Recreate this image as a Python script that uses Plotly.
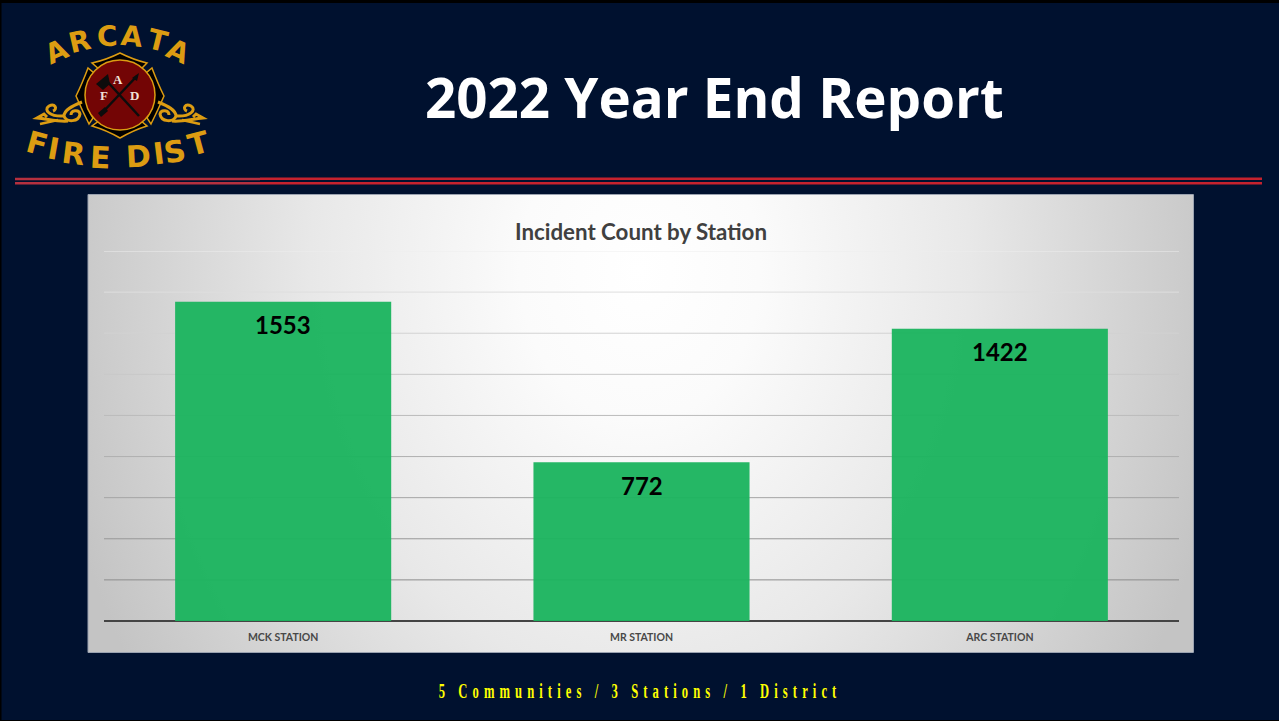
import base64
import plotly.graph_objects as go

# ---- data ----
stations = ["MCK STATION", "MR STATION", "ARC STATION"]
incidents = [1553, 772, 1422]
grid_values = [200, 400, 600, 800, 1000, 1200, 1400, 1600, 1800]
grid_colors = ["#8c8c8c", "#989898", "#a4a4a4", "#b0b0b0", "#bcbcbc", "#c8c8c8", "#d2d2d2", "#dedede", "#eeeeee"]
main_title = "2022 Year End Report"
chart_title = "Incident Count by Station"
footer = "5 Communities / 3 Stations / 1 District"
top_letters = list("ARCATA")
top_xy = [(57, 52), (80, 42), (107, 37), (132, 37), (157, 41), (178, 52)]
top_ang = [-24, -13, -3, 6, 14, 24]
low_letters = list("FIREDIST")
low_xy = [(37, 143), (53, 148), (73, 153), (100, 157), (138, 156), (158, 153), (175, 151), (198, 143)]
low_ang = [15, 10, 7, 3, -3, -7, -10, -15]

W, H = 1279, 721
NAVY = "#00112f"
GOLD = "#dc9c12"
CX = 120


def X(x):
    return x / W


def Y(y):
    return 1 - y / H


def P(cmds):
    out = []
    for c in cmds:
        if isinstance(c, str):
            out.append(c)
        else:
            out.append(f"{X(c[0]):.5f},{Y(c[1]):.5f}")
    return " ".join(out)


def rect(x0, y0, x1, y1, color):
    return dict(type="rect", xref="paper", yref="paper", x0=X(x0), x1=X(x1), y0=Y(y0), y1=Y(y1),
                fillcolor=color, line_width=0, layer="below")


def path(cmds, fill=None, line=None, lw=0):
    d = dict(type="path", xref="paper", yref="paper", path=P(cmds), layer="below")
    d["fillcolor"] = fill if fill else "rgba(0,0,0,0)"
    d["line"] = dict(color=line or "rgba(0,0,0,0)", width=lw)
    return d


def circle(cx, cy, r, fill, line=None, lw=0):
    return dict(type="circle", xref="paper", yref="paper", x0=X(cx - r), x1=X(cx + r), y0=Y(cy + r), y1=Y(cy - r),
                fillcolor=fill, line=dict(color=line or "rgba(0,0,0,0)", width=lw), layer="below")


svg = """<svg xmlns='http://www.w3.org/2000/svg' width='1105' height='457' preserveAspectRatio='none'>
<defs><radialGradient id='g' gradientUnits='userSpaceOnUse' cx='0' cy='0' r='1' gradientTransform='translate(552 75) scale(600 750)'>
<stop offset='0' stop-color='#ffffff'/><stop offset='0.2' stop-color='#fbfbfb'/><stop offset='0.55' stop-color='#e8e8e8'/><stop offset='1' stop-color='#c4c4c4'/>
</radialGradient></defs><rect width='1105' height='457' fill='url(#g)'/></svg>"""
panel_src = "data:image/svg+xml;base64," + base64.b64encode(svg.encode()).decode()

shapes = []
shapes += [rect(0, 0, W, 3, "#000000"), rect(0, 0, 1.5, H, "#000000"), rect(0, 720, W, H, "#000000")]
shapes += [rect(15, 177.8, 260, 180.2, "#b5303f"), rect(15, 182, 260, 184.6, "#b5303f"),
           rect(260, 177.6, 1262, 180, "#c5222e"), rect(260, 182, 1262, 184.4, "#c5222e")]
shapes.append(dict(type="rect", xref="paper", yref="paper", x0=X(88), x1=X(1193.5), y0=Y(652.5), y1=Y(194.5),
                   line=dict(color="#9aa2b0", width=1), fillcolor="rgba(0,0,0,0)", layer="below"))
for v, c in zip(grid_values, grid_colors):
    shapes.append(dict(type="line", xref="x domain", yref="y", x0=0, x1=1, y0=v, y1=v,
                       line=dict(color=c, width=1), layer="below"))

# logo emblem
for sgn in (1, -1):
    m = lambda x: CX + sgn * (x - CX)
    shapes.append(path(["M", (m(152), 68), "Q", (m(158), 84), (m(164), 96), "Q", (m(158), 110), (m(151), 124),
                        "L", (m(147), 118), "Q", (m(160), 96), (m(146), 73), "Z"],
                       fill="#000000", line=GOLD, lw=1.5))
    shapes.append(path(["M", (m(158), 102), "C", (m(168), 106), (m(176), 110), (m(176), 116),
                        "C", (m(174), 123), (m(161), 122), (m(160), 114), "C", (m(161), 109), (m(169), 110), (m(169), 115)],
                       line=GOLD, lw=3))
    shapes.append(path(["M", (m(176), 116), "C", (m(190), 117), (m(197), 110), (m(191), 106),
                        "C", (m(185), 103), (m(182), 109), (m(187), 111)], line=GOLD, lw=3))
    shapes.append(path(["M", (m(172), 121), "C", (m(182), 122), (m(192), 119), (m(203), 118),
                        "L", (m(196), 114), "L", (m(193), 117)], line=GOLD, lw=3))
    shapes.append(path(["M", (m(182), 120), "L", (m(200), 124)], line=GOLD, lw=2.5))
shapes.append(path(["M", (92, 63), "Q", (106, 60), (120, 53), "Q", (134, 60), (147, 63), "L", (141, 69),
                    "Q", (120, 56), (99, 69), "Z"], fill="#000000", line=GOLD, lw=1.5))
shapes.append(path(["M", (92, 126), "Q", (106, 130), (120, 138), "Q", (134, 130), (147, 126), "L", (141, 121),
                    "Q", (120, 134), (99, 121), "Z"], fill="#000000", line=GOLD, lw=1.5))
shapes.append(circle(CX, 95, 35, "#730505", GOLD, 1.5))
shapes.append(path(["M", (104, 78), "L", (139, 116)], line="#0c0c0c", lw=2.5))
shapes.append(path(["M", (137, 76), "L", (101, 114)], line="#0c0c0c", lw=2.5))
shapes.append(path(["M", (96, 84), "L", (108, 74), "L", (110, 84), "L", (103, 90), "Z"], fill="#0c0c0c"))
shapes.append(path(["M", (98, 113), "L", (105, 107), "L", (108, 111), "L", (101, 117), "Z"], fill="#0c0c0c"))
shapes.append(path(["M", (132, 78), "L", (139, 73), "L", (137, 81), "Z"], fill="#0c0c0c"))

anns = []


def note(text, x, y, size, color, family, angle=0, **kw):
    anns.append(dict(text=text, xref="paper", yref="paper", x=X(x), y=Y(y), xanchor="center", yanchor="middle",
                     showarrow=False, textangle=angle, font=dict(size=size, color=color, family=family), **kw))


for s, (x, y), a in zip(top_letters, top_xy, top_ang):
    note(f"<b>{s}</b>", x, y, 28, GOLD, "DejaVu Sans", a)
for s, (x, y), a in zip(low_letters, low_xy, low_ang):
    note(f"<b>{s}</b>", x, y, 30, GOLD, "DejaVu Sans", a)
for s, x, y in (("A", 118, 80), ("F", 104, 96), ("D", 134, 96)):
    note(f"<b>{s}</b>", x, y, 13, "#f2e2d8", "Liberation Serif")

note(f"<b>{main_title}</b>", 714.5, 97, 54.7, "#ffffff", "Open Sans")
note(f"<b>{footer}</b>", 640, 691, 21, "#ffff00", "Liberation Serif")

for c, v in zip(stations, incidents):
    anns.append(dict(text=f"<b>{v}</b>", xref="x", yref="y", x=c, y=v, yshift=-23, xanchor="center", yanchor="middle",
                     showarrow=False, font=dict(size=24, color="#000000", family="Lato")))

fig = go.Figure(go.Bar(x=stations, y=incidents, marker=dict(color="#1cb45f", opacity=0.96, line_width=0), hoverinfo="skip"))

fig.update_layout(
    width=W, height=H, autosize=False,
    margin=dict(l=0, r=0, t=0, b=0, pad=0),
    paper_bgcolor=NAVY, plot_bgcolor="rgba(0,0,0,0)",
    showlegend=False, bargap=0.397,
    title=dict(text=f"<b>{chart_title}</b>", x=X(641), y=Y(232), xanchor="center", yanchor="middle",
               xref="paper", yref="paper", font=dict(size=22.3, color="#404040", family="Lato")),
    xaxis=dict(domain=[X(104), X(1179)], showgrid=False, zeroline=False, showline=False, ticks="",
               tickfont=dict(size=10.5, color="#484848", family="Lato", weight="bold"), ticklabelstandoff=8),
    yaxis=dict(domain=[Y(621), Y(251)], range=[0, 1800], showgrid=False, zeroline=True, zerolinecolor="#444444",
               zerolinewidth=2, showticklabels=False, ticks=""),
    shapes=shapes, annotations=anns,
    images=[dict(source=panel_src, xref="paper", yref="paper", x=X(88), y=Y(195), sizex=1105 / W, sizey=457 / H,
                 xanchor="left", yanchor="top", sizing="stretch", layer="below")],
)

post = """
document.body.style.margin='0';document.body.style.background='#00112f';document.documentElement.style.overflow='hidden';
document.querySelectorAll('.annotation-text').forEach(function(t){
  if(t.textContent.indexOf('Communities')>=0){
    t.style.letterSpacing='8.5px';t.style.transformBox='fill-box';t.style.transformOrigin='center';t.style.transform='scaleX(0.6)';
  }
});
"""
fig.write_html("out.html", post_script=post, config=dict(displayModeBar=False))
